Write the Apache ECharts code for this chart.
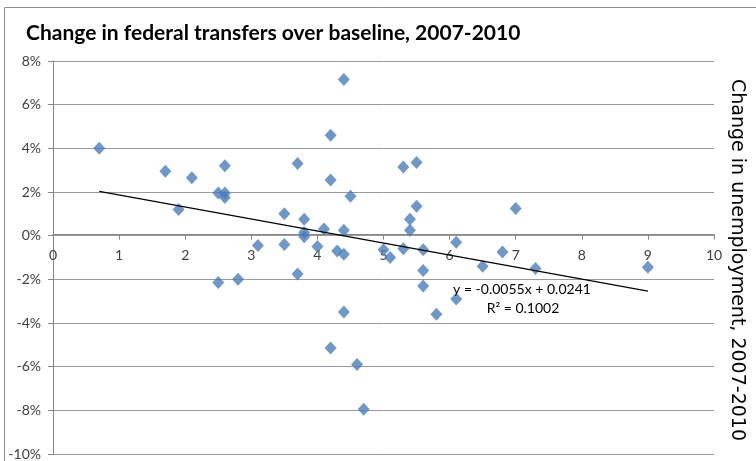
<!DOCTYPE html>
<html>
<head>
<meta charset="utf-8">
<script src="https://cdn.jsdelivr.net/npm/echarts@6/dist/echarts.min.js"></script>
<style>
  html, body { margin: 0; padding: 0; background: #fff; }
  #chart { width: 756px; height: 461px; }
</style>
</head>
<body>
<div id="chart"></div>
<script>
// change in unemployment (points), 2007-2010
const unemploymentChange = [
  0.7, 1.7, 1.9, 2.1, 2.5, 2.6, 2.6, 2.6, 2.5, 2.8,
  3.1, 3.5, 3.5, 3.7, 3.7, 3.8, 3.8, 3.8, 4.0, 4.1,
  4.2, 4.2, 4.2, 4.3, 4.4, 4.4, 4.4, 4.4, 4.5, 4.6,
  4.7, 5.0, 5.1, 5.3, 5.3, 5.4, 5.4, 5.5, 5.5, 5.6,
  5.6, 5.6, 5.8, 6.1, 6.1, 6.5, 6.8, 7.0, 7.3, 9.0
];
// change in federal transfers over baseline (%)
const transferChange = [
  4.0, 2.95, 1.2, 2.65, 1.95, 3.2, 1.95, 1.75, -2.15, -2.0,
  -0.45, 1.0, -0.4, 3.3, -1.75, 0.75, 0.15, -0.05, -0.5, 0.3,
  4.6, 2.55, -5.15, -0.7, -0.85, 7.15, 0.25, -3.5, 1.8, -5.9,
  -7.95, -0.65, -1.0, 3.15, -0.6, 0.75, 0.25, 3.35, 1.35, -0.65,
  -1.6, -2.3, -3.6, -0.3, -2.9, -1.4, -0.75, 1.25, -1.5, -1.45
];

// axis ranges
const xRange = [0, 10, 1];
const yRange = [-10, 8, 2];

// linear trend shown on the chart
const trendSlope = -0.0055;
const trendIntercept = 0.0241;
const trendText = ['y = -0.0055x + 0.0241', 'R\u00B2 = 0.1002'];

const titleText = 'Change in federal transfers over baseline, 2007-2010';
const xTitleText = 'Change in unemployment, 2007-2010';

const labelFont = 'Lato, "Open Sans", sans-serif';

const points = unemploymentChange.map((x, i) => [x, transferChange[i]]);
const xMin = Math.min(...unemploymentChange);
const xMax = Math.max(...unemploymentChange);
const trendAt = x => (trendSlope * x + trendIntercept) * 100;

// x axis crosses the y axis at 0, like the spreadsheet chart
const gridTop = 61;
const gridBottom = 5;
const gridHeight = 461 - gridTop - gridBottom;
const zeroOffset = gridHeight * (0 - yRange[0]) / (yRange[1] - yRange[0]);

const chart = echarts.init(document.getElementById('chart'));

const option = {
  animation: false,
  backgroundColor: '#fff',
  title: {
    text: titleText,
    left: 21,
    top: 18,
    textStyle: {
      fontFamily: labelFont,
      fontWeight: 'bold',
      fontSize: 21,
      color: '#000'
    }
  },
  grid: {
    left: 53,
    right: 42,
    top: gridTop,
    bottom: gridBottom
  },
  xAxis: {
    type: 'value',
    min: xRange[0],
    max: xRange[1],
    interval: xRange[2],
    position: 'bottom',
    offset: -zeroOffset,
    axisLine: {
      onZero: false,
      lineStyle: { color: '#868686' }
    },
    axisTick: {
      show: true,
      length: 5,
      lineStyle: { color: '#868686' }
    },
    axisLabel: {
      margin: 14,
      fontFamily: labelFont,
      fontSize: 14,
      color: '#404040'
    },
    splitLine: { show: false }
  },
  yAxis: {
    type: 'value',
    min: yRange[0],
    max: yRange[1],
    interval: yRange[2],
    axisLine: {
      show: true,
      onZero: false,
      lineStyle: { color: '#868686' }
    },
    axisTick: {
      show: true,
      length: 5,
      lineStyle: { color: '#868686' }
    },
    axisLabel: {
      margin: 12,
      formatter: '{value}%',
      fontFamily: labelFont,
      fontSize: 14,
      color: '#404040'
    },
    splitLine: {
      lineStyle: { color: '#9a9a9a', width: 1 }
    }
  },
  series: [
    {
      type: 'scatter',
      symbol: 'diamond',
      symbolSize: [12, 13],
      itemStyle: { color: '#4A7EBB' },
      data: points,
      z: 2
    },
    {
      type: 'line',
      symbol: 'none',
      silent: true,
      lineStyle: { color: '#000', width: 1.2 },
      data: [[xMin, trendAt(xMin)], [xMax, trendAt(xMax)]],
      z: 3
    }
  ],
  graphic: [
    {
      type: 'rect',
      shape: { x: 4.5, y: 7.5, width: 800, height: 500 },
      style: { fill: 'none', stroke: '#8c8c8c', lineWidth: 1 },
      z: 0
    },
    {
      type: 'text',
      x: 522,
      y: 289,
      style: {
        text: trendText[0],
        align: 'center',
        verticalAlign: 'middle',
        textAlign: 'center',
        textVerticalAlign: 'middle',
        font: '14px ' + labelFont,
        fill: '#000'
      },
      z: 10
    },
    {
      type: 'text',
      x: 523,
      y: 308,
      style: {
        text: trendText[1],
        align: 'center',
        verticalAlign: 'middle',
        textAlign: 'center',
        textVerticalAlign: 'middle',
        font: '14px ' + labelFont,
        fill: '#000'
      },
      z: 10
    },
    {
      type: 'text',
      x: 737,
      y: 260,
      rotation: -Math.PI / 2,
      style: {
        text: xTitleText,
        align: 'center',
        verticalAlign: 'middle',
        textAlign: 'center',
        textVerticalAlign: 'middle',
        font: '19px "DejaVu Sans", sans-serif',
        fill: '#000'
      },
      z: 10
    }
  ]
};

chart.setOption(option);
</script>
</body>
</html>
